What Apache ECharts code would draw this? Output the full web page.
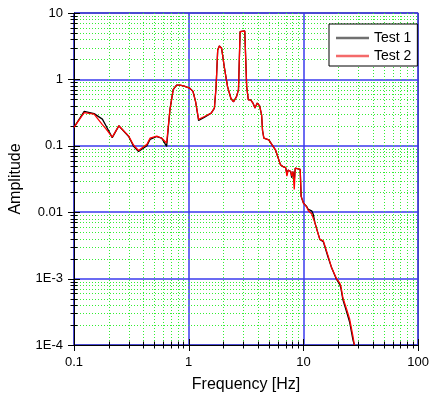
<!DOCTYPE html>
<html><head><meta charset="utf-8">
<script src="https://cdn.jsdelivr.net/npm/echarts@6/dist/echarts.min.js"></script>
<style>html,body{margin:0;padding:0;background:#fff}#c{width:432px;height:400px}</style>
</head><body><div id="c"></div><script>
const freq = [0.100, 0.1227, 0.1497, 0.1767, 0.190, 0.2155, 0.2458, 0.2997, 0.331, 0.3654,
  0.432, 0.46, 0.527, 0.582, 0.642, 0.686, 0.732, 0.783, 0.836, 0.90,
  1.02, 1.089, 1.149, 1.22, 1.374, 1.57, 1.675, 1.733, 1.789, 1.849,
  1.936, 2.04, 2.18, 2.33, 2.46, 2.61, 2.715, 2.805, 2.85, 3.08,
  3.20, 3.31, 3.47, 3.63, 3.78, 3.96, 4.15, 4.32, 4.40, 4.52,
  4.99, 5.33, 5.70, 6.09, 6.30, 6.72, 7.0, 7.18, 7.35, 7.75,
  7.9, 8.1, 8.32, 8.48, 9.37, 9.55, 10.0, 10.67, 11.04, 11.8,
  12.2, 12.6, 13.5, 13.9, 14.9, 15.3, 16.4, 17.5, 19.4, 20.7,
  21.2, 22.1, 23.6, 25.3, 27.0, 27.8];
const test1 = [0.19, 0.33, 0.305, 0.252, 0.20, 0.133, 0.20, 0.138, 0.098, 0.082,
  0.10, 0.125, 0.138, 0.13, 0.098, 0.35, 0.70, 0.82, 0.82, 0.80,
  0.74, 0.66, 0.46, 0.24, 0.27, 0.31, 0.37, 0.78, 2.78, 3.19,
  2.94, 1.56, 0.78, 0.52, 0.46, 0.55, 0.70, 5.23, 5.55, 5.36,
  0.78, 0.49, 0.49, 0.44, 0.37, 0.44, 0.40, 0.29, 0.17, 0.13,
  0.123, 0.103, 0.087, 0.062, 0.052, 0.048, 0.047, 0.037, 0.043, 0.041,
  0.033, 0.041, 0.03, 0.046, 0.044, 0.0173, 0.0137, 0.0122, 0.011, 0.0105,
  0.0092, 0.0069, 0.0046, 0.0039, 0.0036, 0.0031, 0.0021, 0.0015, 0.00098, 0.00082,
  0.00072, 0.00048, 0.00033, 0.00022, 0.00012, 0.0001];
const test2 = [0.19, 0.315, 0.30, 0.208, 0.18, 0.135, 0.20, 0.14, 0.102, 0.085,
  0.105, 0.13, 0.14, 0.13, 0.11, 0.35, 0.70, 0.82, 0.82, 0.80,
  0.74, 0.66, 0.46, 0.25, 0.276, 0.31, 0.37, 0.78, 2.78, 3.19,
  2.94, 1.56, 0.78, 0.52, 0.46, 0.55, 0.70, 5.23, 5.55, 5.36,
  0.78, 0.49, 0.49, 0.44, 0.37, 0.44, 0.40, 0.29, 0.17, 0.13,
  0.123, 0.103, 0.087, 0.062, 0.052, 0.048, 0.047, 0.035, 0.043, 0.041,
  0.035, 0.041, 0.022, 0.046, 0.044, 0.0173, 0.0137, 0.012, 0.0105, 0.0095,
  0.0092, 0.0069, 0.0046, 0.0039, 0.0037, 0.0032, 0.0022, 0.0015, 0.001, 0.00086,
  0.00077, 0.00051, 0.00036, 0.000244, 0.000136, 0.0001];
const seriesNames = ['Test 1', 'Test 2'];
const xMajor = [0.1, 1, 10, 100];
const xLabels = ['0.1', '1', '10', '100'];
const yMajor = [1e-4, 1e-3, 0.01, 0.1, 1, 10];
const yLabels = ['1E-4', '1E-3', '0.01', '0.1', '1', '10'];
const xMinor = [0.2,0.3,0.4,0.5,0.6,0.7,0.8,0.9, 2,3,4,5,6,7,8,9, 20,30,40,50,60,70,80,90];
const yMinor = [2e-4,3e-4,4e-4,5e-4,6e-4,7e-4,8e-4,9e-4, 2e-3,3e-3,4e-3,5e-3,6e-3,7e-3,8e-3,9e-3,
  0.02,0.03,0.04,0.05,0.06,0.07,0.08,0.09, 0.2,0.3,0.4,0.5,0.6,0.7,0.8,0.9, 2,3,4,5,6,7,8,9];

function lab(v, majors, labels) {
  for (let i = 0; i < majors.length; i++) {
    if (Math.abs(Math.log10(v) - Math.log10(majors[i])) < 1e-6) return labels[i];
  }
  return '';
}
const FONT = 'Liberation Sans, Arial, Helvetica, sans-serif';
const GREEN = '#33ee33';

function xRender(isMajor) {
  return function (params, api) {
    const cs = params.coordSys;
    let x = Math.round(api.coord([api.value(0), 1])[0]) + 0.5;
    const b = cs.y + cs.height;
    const t = isMajor ? 6 : 3.5;
    const ch = [{type: 'line', shape: {x1: x, y1: b - t, x2: x, y2: b + t}, style: {stroke: '#000', lineWidth: 1}}];
    if (!isMajor) ch.unshift({type: 'line', shape: {x1: x, y1: cs.y, x2: x, y2: b}, style: {stroke: GREEN, lineWidth: 1, lineDash: [1, 2]}});
    return {type: 'group', children: ch};
  };
}
function yRender(isMajor) {
  return function (params, api) {
    const cs = params.coordSys;
    let y = Math.round(api.coord([1, api.value(1)])[1]) + 0.5;
    const l = cs.x;
    const t = isMajor ? 6 : 3.5;
    const ch = [{type: 'line', shape: {x1: l - t, y1: y, x2: l + t, y2: y}, style: {stroke: '#000', lineWidth: 1}}];
    if (!isMajor) ch.unshift({type: 'line', shape: {x1: l, y1: y, x2: cs.x + cs.width, y2: y}, style: {stroke: GREEN, lineWidth: 1, lineDash: [1, 2]}});
    return {type: 'group', children: ch};
  };
}

const chart = echarts.init(document.getElementById('c'), null, {renderer: 'canvas'});
chart.setOption({
  animation: false,
  backgroundColor: '#fff',
  grid: {left: 73, right: 11, top: 13, bottom: 55, show: true, borderColor: '#000', borderWidth: 1, containLabel: false},
  legend: {
    data: [{name: seriesNames[0], itemStyle: {color: '#707070'}}, {name: seriesNames[1], itemStyle: {color: '#f46a6a'}}],
    orient: 'vertical', left: 329, top: 24, icon: 'rect', itemWidth: 33, itemHeight: 2.5, itemGap: 2,
    padding: [6, 6, 2, 7], borderColor: '#000', borderWidth: 1, backgroundColor: '#fff',
    textStyle: {fontFamily: FONT, fontSize: 14, color: '#000', lineHeight: 16}
  },
  xAxis: {
    type: 'log', logBase: 10, min: 0.1, max: 100,
    name: 'Frequency [Hz]', nameLocation: 'middle', nameGap: 32,
    nameTextStyle: {fontFamily: FONT, fontSize: 16, color: '#000'},
    axisLine: {lineStyle: {color: '#000', width: 1}},
    axisTick: {show: false},
    axisLabel: {fontFamily: FONT, fontSize: 13, color: '#000', margin: 11, formatter: v => lab(v, xMajor, xLabels)},
    splitLine: {show: true, lineStyle: {color: '#3a3aee', width: 1.5}},
    minorTick: {show: false}, minorSplitLine: {show: false}
  },
  yAxis: {
    type: 'log', logBase: 10, min: 1e-4, max: 10,
    name: 'Amplitude', nameLocation: 'middle', nameGap: 50, nameRotate: 90,
    nameTextStyle: {fontFamily: FONT, fontSize: 16, color: '#000'},
    axisLine: {lineStyle: {color: '#000', width: 1}},
    axisTick: {show: false},
    axisLabel: {fontFamily: FONT, fontSize: 13, color: '#000', margin: 11, formatter: v => lab(v, yMajor, yLabels)},
    splitLine: {show: true, lineStyle: {color: '#3a3aee', width: 1.5}},
    minorTick: {show: false}, minorSplitLine: {show: false}
  },
  series: [
    {type: 'custom', silent: true, z: 1, renderItem: xRender(false), data: xMinor.map(v => [v, 1])},
    {type: 'custom', silent: true, z: 1, renderItem: yRender(false), data: yMinor.map(v => [1, v])},
    {type: 'custom', silent: true, z: 1, renderItem: xRender(true), data: xMajor.map(v => [v, 1])},
    {type: 'custom', silent: true, z: 1, renderItem: yRender(true), data: yMajor.map(v => [1, v])},
    {name: seriesNames[0], type: 'line', z: 3, showSymbol: false, symbol: 'none', clip: true,
     lineStyle: {color: '#000', width: 1.3}, itemStyle: {color: '#000'},
     data: freq.map((f, i) => [f, test1[i]])},
    {name: seriesNames[1], type: 'line', z: 4, showSymbol: false, symbol: 'none', clip: true,
     lineStyle: {color: '#ff0000', width: 1.3}, itemStyle: {color: '#ff0000'},
     data: freq.map((f, i) => [f, test2[i]])}
  ]
});
</script></body></html>
